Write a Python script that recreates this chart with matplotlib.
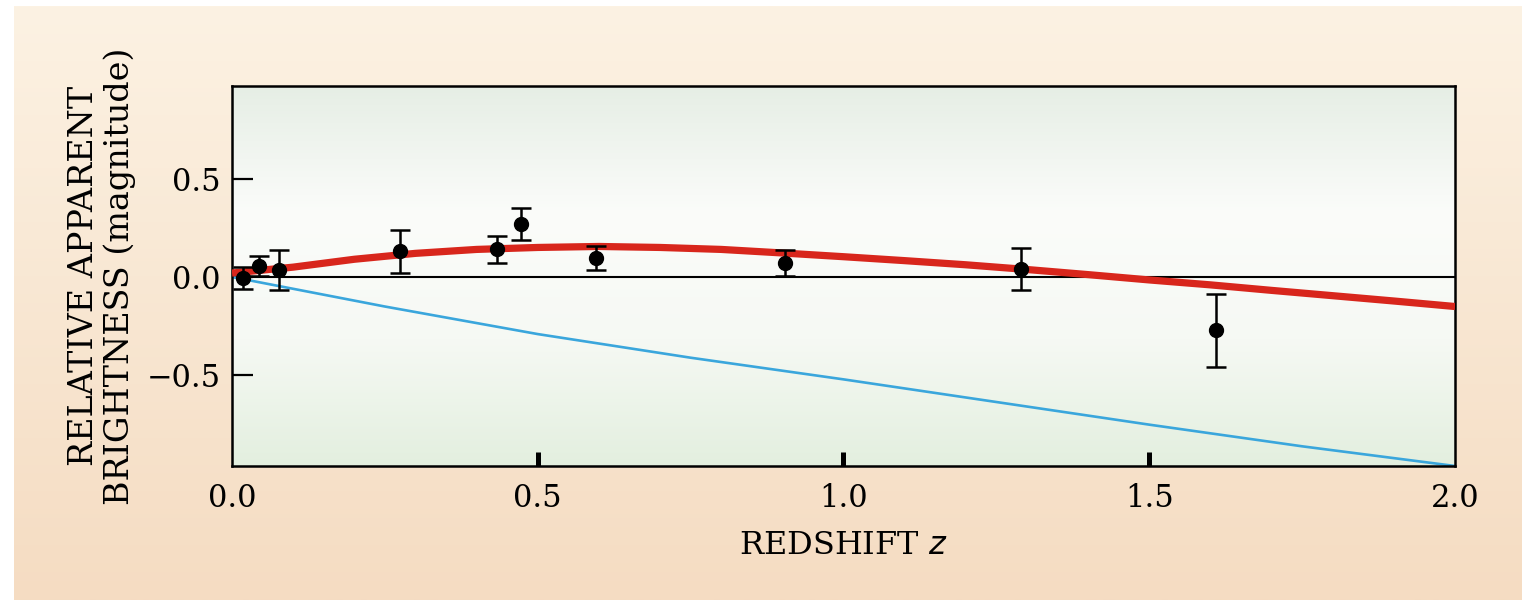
import numpy as np
import matplotlib
matplotlib.use("Agg")
import matplotlib.pyplot as plt
from matplotlib.colors import LinearSegmentedColormap

# supernova points
z_obs = [0.018, 0.044, 0.077, 0.275, 0.433, 0.473, 0.595, 0.904, 1.29, 1.609]
mag_obs = [-0.005, 0.056, 0.035, 0.13, 0.14, 0.27, 0.095, 0.07, 0.04, -0.27]
mag_err = [0.055, 0.05, 0.10, 0.11, 0.07, 0.08, 0.06, 0.065, 0.105, 0.185]

# accelerating model (red)
z_red = [0.0, 0.1, 0.2, 0.3, 0.4, 0.5, 0.6, 0.7, 0.8, 0.9, 1.0,
         1.1, 1.2, 1.3, 1.4, 1.5, 1.6, 1.7, 1.8, 1.9, 2.0]
mag_red = [0.02, 0.05, 0.09, 0.12, 0.14, 0.15, 0.155, 0.15, 0.14, 0.122, 0.103,
           0.083, 0.062, 0.038, 0.012, -0.015, -0.04, -0.068, -0.095, -0.122, -0.15]

# decelerating model (blue)
z_blue = [0.0, 0.25, 0.5, 0.75, 1.0, 1.25, 1.5, 1.75, 2.0]
mag_blue = [0.0, -0.15, -0.29, -0.41, -0.52, -0.635, -0.75, -0.86, -0.96]

xticks = [0.0, 0.5, 1.0, 1.5, 2.0]
yticks = [-0.5, 0.0, 0.5]

plt.rcParams['font.family'] = ['DejaVu Serif']

fig = plt.figure(figsize=(15.25, 6.04), dpi=100)
fig.patch.set_facecolor('white')

# peach backdrop
W, H = 1525, 604
bg = fig.add_axes([14 / W, 4 / H, (1522 - 14) / W, (598 - 4) / H])
peach = LinearSegmentedColormap.from_list('peach', ['#f5dcc2', '#fcf2e3'])
bg.imshow(np.linspace(0, 1, 256).reshape(-1, 1)[::-1], cmap=peach, aspect='auto',
          extent=[0, 1, 0, 1], origin='upper')
bg.axis('off')

ax = fig.add_axes([232 / W, (H - 466) / H, 1223 / W, 380 / H])
green = LinearSegmentedColormap.from_list('green', ['#e3efdf', '#f6f9f4', '#fbfcfa', '#e6eee5'])
ax.imshow(np.linspace(0, 1, 256).reshape(-1, 1), cmap=green, aspect='auto',
          extent=[0, 2.0, -0.96, 0.97], origin='lower', zorder=0)

ax.axhline(0, color='black', lw=1.5, zorder=1)
ax.plot(z_blue, mag_blue, color='#3aa6dc', lw=1.9, zorder=2)
ax.plot(z_red, mag_red, color='#d8261c', lw=5.2, solid_capstyle='butt', zorder=3)
ax.errorbar(z_obs, mag_obs, yerr=mag_err, fmt='o', color='black', ms=10,
            elinewidth=1.8, capsize=7, capthick=1.8, zorder=4)

ax.set_xlim(0, 2.0)
ax.set_ylim(-0.96, 0.97)
ax.set_xticks(xticks)
ax.set_xticklabels([f'{t:.1f}' for t in xticks])
ax.set_yticks(yticks)
ax.set_yticklabels(['\u22120.5', '0.0', '0.5'])
ax.tick_params(axis='y', direction='in', length=15, width=1.6, labelsize=22, pad=8)
ax.tick_params(axis='x', direction='in', length=10, width=3.6, labelsize=22, pad=12)
for t in (ax.xaxis.get_major_ticks()[0], ax.xaxis.get_major_ticks()[-1]):
    t.tick1line.set_visible(False)
for s in ax.spines.values():
    s.set_linewidth(1.8)

ax.set_xlabel('REDSHIFT $\\it{z}$', fontsize=23, labelpad=12)
ax.set_ylabel('RELATIVE APPARENT\nBRIGHTNESS (magnitude)', fontsize=24,
              labelpad=8, linespacing=1.1)

fig.savefig('out.png', dpi=100)
